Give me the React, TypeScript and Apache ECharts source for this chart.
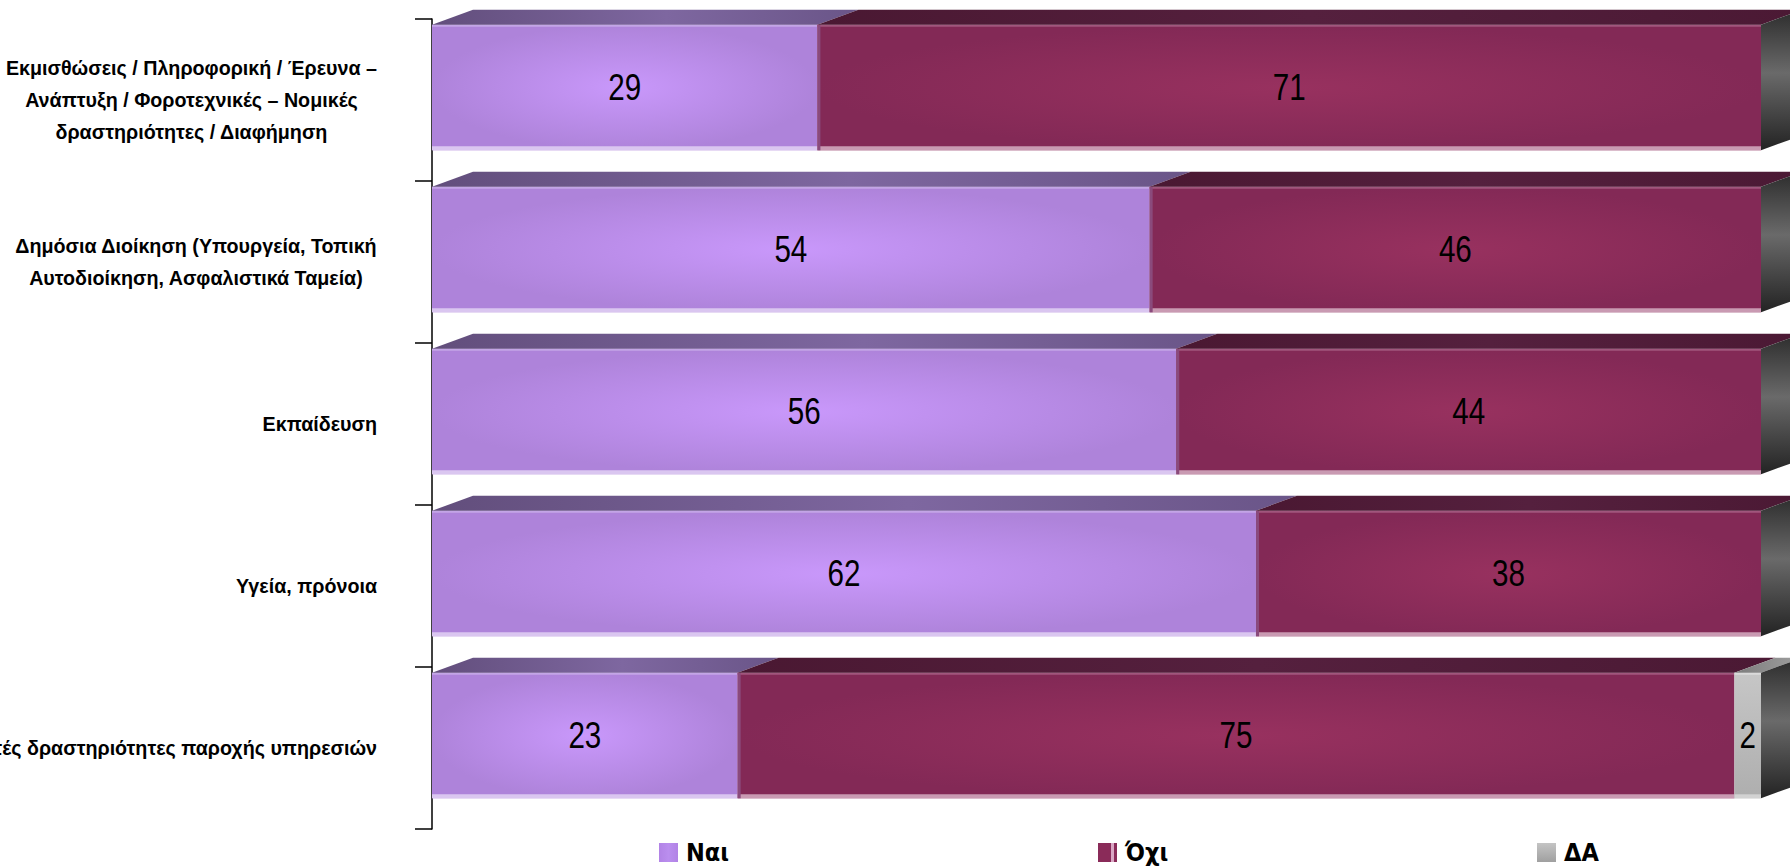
import React, { useEffect, useRef } from "react";
import * as echarts from "echarts";

const categories = [
  "Εκμισθώσεις / Πληροφορική / Έρευνα –\nΑνάπτυξη / Φοροτεχνικές – Νομικές\nδραστηριότητες / Διαφήμηση",
  "Δημόσια Διοίκηση (Υπουργεία, Τοπική\nΑυτοδιοίκηση, Ασφαλιστικά Ταμεία)",
  "Εκπαίδευση",
  "Υγεία, πρόνοια",
  "Λοιπές δραστηριότητες παροχής υπηρεσιών",
];
const yesValues = [29, 54, 56, 62, 23];
const noValues = [71, 46, 44, 38, 75];
const dkValues = [0, 0, 0, 0, 2];
const seriesNames = ["Ναι", "Όχι", "ΔΑ"];

const SANS = "'Liberation Sans', Arial, sans-serif";
const CONDENSED = "'DejaVu Sans Condensed', 'Liberation Sans', sans-serif";
const DX = 41;
const DY = 15;

const palettes = [
  {
    front: () =>
      new echarts.graphic.RadialGradient(0.5, 0.5, 0.5, [
        { offset: 0, color: "#c998fb" },
        { offset: 1, color: "#ae83da" },
      ]),
    top: () =>
      new echarts.graphic.LinearGradient(0, 0, 1, 0, [
        { offset: 0, color: "#624e7c" },
        { offset: 0.55, color: "#7e67a0" },
        { offset: 1, color: "#6a5588" },
      ]),
    topLine: "#c3a5e6",
    bottom: "#dac6f0",
    edge: null as string | null,
  },
  {
    front: () =>
      new echarts.graphic.RadialGradient(0.5, 0.5, 0.5, [
        { offset: 0, color: "#98315f" },
        { offset: 1, color: "#832956" },
      ]),
    top: () =>
      new echarts.graphic.LinearGradient(0, 0, 1, 0, [
        { offset: 0, color: "#4a1832" },
        { offset: 0.5, color: "#55203e" },
        { offset: 1, color: "#4b1934" },
      ]),
    topLine: "#a0567d",
    bottom: "#c99ab2",
    edge: "#8a4a7c",
  },
  {
    front: () =>
      new echarts.graphic.LinearGradient(0, 0, 0, 1, [
        { offset: 0, color: "#c6c6c6" },
        { offset: 1, color: "#aeaeae" },
      ]),
    top: () =>
      new echarts.graphic.LinearGradient(0, 0, 1, 0, [
        { offset: 0, color: "#7c7c7c" },
        { offset: 1, color: "#a0a0a0" },
      ]),
    topLine: "#dadada",
    bottom: "#d2d2d2",
    edge: null as string | null,
  },
];

function makeRenderItem(sIdx: number) {
  return (params: any, api: any) => {
    const cat = api.value(0);
    const s = api.value(1);
    const e = api.value(2);
    const v = api.value(3);
    const p0 = api.coord([s, cat]);
    const p1 = api.coord([e, cat]);
    const band = api.size([0, 1])[1];
    const h = band * 0.775;
    const cy = p0[1] - band * 0.077;
    const yT = cy - h / 2;
    const yB = cy + h / 2;
    const x0 = p0[0];
    const x1 = p1[0];
    const w = x1 - x0;
    const pal = palettes[sIdx];
    const children: any[] = [];
    if (w > 0) {
      children.push({
        type: "rect",
        shape: { x: x0, y: yT, width: w, height: h },
        style: { fill: pal.front() },
      });
      children.push({
        type: "rect",
        shape: { x: x0, y: yT, width: w, height: 2 },
        style: { fill: pal.topLine },
      });
      children.push({
        type: "rect",
        shape: { x: x0, y: yB - 4, width: w, height: 4 },
        style: { fill: pal.bottom },
      });
      if (pal.edge) {
        children.push({
          type: "rect",
          shape: { x: x0, y: yT, width: 3, height: h },
          style: { fill: pal.edge },
        });
      }
      children.push({
        type: "polygon",
        shape: {
          points: [
            [x0, yT],
            [x1, yT],
            [x1 + DX, yT - DY],
            [x0 + DX, yT - DY],
          ],
        },
        style: { fill: pal.top() },
      });
    }
    if (sIdx === 2) {
      children.push({
        type: "polygon",
        shape: {
          points: [
            [x1, yT],
            [x1 + DX, yT - DY],
            [x1 + DX, yB - DY],
            [x1, yB],
          ],
        },
        style: {
          fill: new echarts.graphic.LinearGradient(0, 0, 0, 1, [
            { offset: 0, color: "#2c2c2c" },
            { offset: 0.45, color: "#6a6a6a" },
            { offset: 1, color: "#232323" },
          ]),
        },
      });
    }
    if (v > 0) {
      children.push({
        type: "text",
        z2: 10,
        x: x0 + w / 2,
        y: cy,
        scaleX: 0.8,
        style: {
          text: String(v),
          x: 0,
          y: 0,
          align: "center",
          verticalAlign: "middle",
          fontSize: 37,
          fontFamily: SANS,
          fill: "#000",
        },
      });
    }
    return { type: "group", children };
  };
}

const legendIcons = [
  new echarts.graphic.LinearGradient(0, 0, 1, 0, [
    { offset: 0, color: "#b283e6" },
    { offset: 0.5, color: "#ba8eee" },
    { offset: 1, color: "#b283e6" },
  ]),
  new echarts.graphic.LinearGradient(0, 0, 1, 0, [
    { offset: 0, color: "#8a2b59" },
    { offset: 0.66, color: "#8a2b59" },
    { offset: 0.68, color: "#d9a6c4" },
    { offset: 0.82, color: "#d9a6c4" },
    { offset: 0.84, color: "#8a2b59" },
    { offset: 1, color: "#8a2b59" },
  ]),
  new echarts.graphic.LinearGradient(0, 0, 0, 1, [
    { offset: 0, color: "#c4c4c4" },
    { offset: 1, color: "#a0a0a0" },
  ]),
];
const legendLefts = [659, 1098, 1537];

export default function App() {
  const ref = useRef<HTMLDivElement>(null);
  useEffect(() => {
    if (!ref.current) return;
    const chart = echarts.init(ref.current, undefined, { renderer: "svg" });
    const starts = [
      yesValues.map(() => 0),
      yesValues.slice(),
      yesValues.map((y, i) => y + noValues[i]),
    ];
    const vals = [yesValues, noValues, dkValues];
    const series = seriesNames.map((name, sIdx) => ({
      type: "custom",
      name,
      renderItem: makeRenderItem(sIdx),
      encode: { x: [1, 2], y: 0 },
      itemStyle: { color: legendIcons[sIdx] },
      data: categories.map((_, i) => [i, starts[sIdx][i], starts[sIdx][i] + vals[sIdx][i], vals[sIdx][i]]),
      z: 2 + sIdx,
    }));
    chart.setOption({
      animation: false,
      grid: {
        left: 432,
        right: 29,
        top: 19,
        bottom: 37,
        containLabel: false,
        outerBoundsMode: "none",
      },
      xAxis: { type: "value", min: 0, max: 100, show: false },
      yAxis: {
        type: "category",
        data: categories,
        inverse: true,
        offset: 32,
        axisLine: { show: true, lineStyle: { color: "#000", width: 1.5 } },
        axisTick: { show: true, length: 17, lineStyle: { color: "#000", width: 1.5 } },
        splitLine: { show: false },
        axisLabel: {
          margin: 23,
          interval: 0,
          hideOverlap: false,
          formatter: (v: string) => v.split("\n").map((l) => `{c|${l}}`).join("\n"),
          rich: {
            c: {
              align: "center",
              fontSize: 19.7,
              fontWeight: "bold",
              fontFamily: SANS,
              lineHeight: 32,
              color: "#000",
            },
          },
        },
      },
      legend: seriesNames.map((name, i) => ({
        data: [{ name, itemStyle: { color: legendIcons[i] } }],
        left: legendLefts[i],
        top: 840,
        padding: 0,
        icon: "rect",
        itemWidth: 19,
        itemHeight: 19,
        selectedMode: false,
        textStyle: {
          fontFamily: CONDENSED,
          fontWeight: "bold",
          fontSize: 25,
          lineHeight: 24,
          color: "#000",
          padding: [0, 0, 0, 3],
        },
      })),
      series,
    });
    return () => chart.dispose();
  }, []);
  return (
    <div
      ref={ref}
      style={{ position: "absolute", left: 0, top: 0, width: 1790, height: 866 }}
    />
  );
}
